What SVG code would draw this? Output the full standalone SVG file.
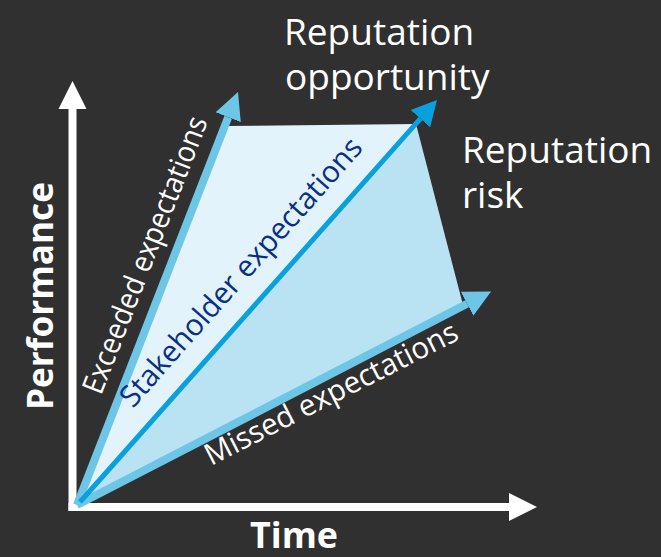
<svg xmlns="http://www.w3.org/2000/svg" width="661" height="557" viewBox="0 0 661 557">
  <defs>
    <style>
      .lbl { font-family: "Open Sans", "Noto Sans", "Liberation Sans", sans-serif; fill: #ffffff; }
      .big { font-size: 37px; }
      .axis-lbl { font-size: 36px; font-weight: bold; }
      .line-lbl { font-size: 30px; }
      .axis { stroke: #ffffff; stroke-width: 8; fill: none; }
      .light { stroke: #6ec6e6; stroke-width: 8; fill: none; }
      .dark { stroke: #0aa0dd; stroke-width: 5; fill: none; }
    </style>
    <marker id="headW" markerUnits="userSpaceOnUse" viewBox="0 -15 30 30" refX="0" refY="0" markerWidth="30" markerHeight="30" orient="auto">
      <path d="M0,-14 L28,0 L0,14 Z" fill="#ffffff"/>
    </marker>
    <marker id="headL" markerUnits="userSpaceOnUse" viewBox="0 -15 30 30" refX="0" refY="0" markerWidth="30" markerHeight="30" orient="auto">
      <path d="M0,-13.5 L27,0 L0,13.5 Z" fill="#6ec6e6"/>
    </marker>
    <marker id="headD" markerUnits="userSpaceOnUse" viewBox="0 -15 30 30" refX="0" refY="0" markerWidth="30" markerHeight="30" orient="auto">
      <path d="M0,-13 L25,0 L0,13 Z" fill="#0aa0dd"/>
    </marker>
  </defs>
  <rect width="661" height="557" fill="#303030"/>

  <g id="areas">
    <polygon points="77,505 416,124 463,305" fill="#b9e2f3"/>
    <polygon points="77,505 225,126 416,124" fill="#e2f3fb"/>
  </g>

  <g id="connectors">
    <line class="axis" x1="72.5" y1="511" x2="72.5" y2="109" marker-end="url(#headW)"/>
    <line class="axis" x1="68.5" y1="507" x2="509" y2="507" marker-end="url(#headW)"/>
    <line class="light" x1="77" y1="505" x2="228.2" y2="117.2" marker-end="url(#headL)"/>
    <line class="light" x1="77" y1="505" x2="467.1" y2="303.8" marker-end="url(#headL)"/>
    <line class="dark" x1="80" y1="502" x2="420.4" y2="118.7" marker-end="url(#headD)"/>
  </g>

  <g id="axis-performance">
    <text class="lbl axis-lbl" transform="translate(53,410) rotate(-90)" textLength="228" lengthAdjust="spacingAndGlyphs">Performance</text>
  </g>
  <g id="axis-time">
    <text class="lbl axis-lbl" x="250" y="548" textLength="88" lengthAdjust="spacingAndGlyphs">Time</text>
  </g>
  <g id="exceeded">
    <text class="lbl line-lbl" transform="translate(101,396) rotate(-68.7)" textLength="295" lengthAdjust="spacingAndGlyphs">Exceeded expectations</text>
  </g>
  <g id="stakeholder">
    <text class="lbl line-lbl" style="fill:#0b2f84" transform="translate(133,409) rotate(-48.4)" textLength="348" lengthAdjust="spacingAndGlyphs">Stakeholder expectations</text>
  </g>
  <g id="missed">
    <text class="lbl line-lbl" transform="translate(211,466) rotate(-27)" textLength="280" lengthAdjust="spacingAndGlyphs">Missed expectations</text>
  </g>
  <g id="opportunity">
    <text class="lbl big" x="284" y="45">Reputation</text>
    <text class="lbl big" x="285" y="90">opportunity</text>
  </g>
  <g id="risk">
    <text class="lbl big" x="462" y="163">Reputation</text>
    <text class="lbl big" x="462" y="208">risk</text>
  </g>
</svg>
